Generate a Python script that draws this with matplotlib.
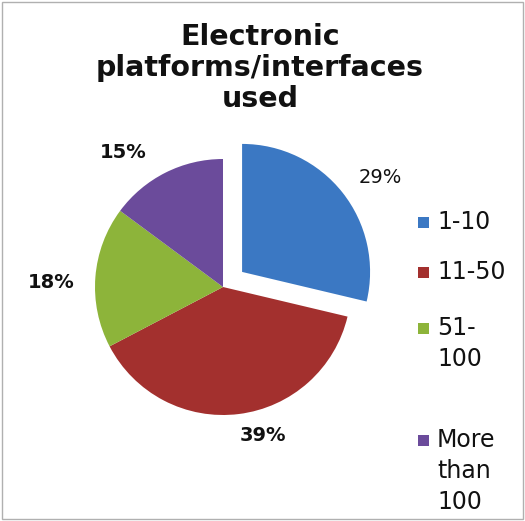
import numpy as np
import matplotlib.pyplot as plt
from matplotlib.patches import Rectangle

# Dados do gráfico
categorias = ['1-10', '11-50', '51-\n100', 'More\nthan\n100']
valores = [29, 39, 18, 15]
rotulos = ['29%', '39%', '18%', '15%']
cores = ['#3b78c3', '#a3302e', '#8db43a', '#6b4b9b']
explode = [0.19, 0, 0, 0]
titulo = 'Electronic\nplatforms/interfaces\nused'

fig = plt.figure(figsize=(5.25, 5.21), dpi=100)
fig.patch.set_facecolor('white')

# Eixo do gráfico de pizza (centro ~ (223, 287) px, raio ~128 px)
ax = fig.add_axes([63 / 525, 74 / 521, 320 / 525, 320 / 521])
wedges, textos = ax.pie(
    valores, colors=cores, explode=explode, startangle=90,
    counterclock=False, wedgeprops=dict(linewidth=0)
)
ax.set_xlim(-1.25, 1.25)
ax.set_ylim(-1.25, 1.25)
ax.set_aspect('equal')

# Rótulos de porcentagem (valores originais, somam 101%)
desvio = [-4, 8, 3, 10]
distancia = [1.31, 1.2, 1.34, 1.31]
pesos = ['normal', 'bold', 'bold', 'bold']
for w, rot, d, r, p in zip(wedges, rotulos, desvio, distancia, pesos):
    ang = np.deg2rad((w.theta1 + w.theta2) / 2 + d)
    cx, cy = w.center
    ax.text(cx + r * np.cos(ang), cy + r * np.sin(ang), rot, ha='center', va='center',
            fontsize=14, fontweight=p, color='#111111')

# Título
fig.text(260 / 525, 1 - 68 / 521, titulo, ha='center', va='center',
         fontsize=20.5, fontweight='bold', linespacing=1.12, color='#111111')

# Legenda manual
legenda_y = [222, 272, 328, 440]
for cat, cor, y in zip(categorias, cores, legenda_y):
    fig.patches.append(Rectangle((418 / 525, 1 - (y + 6) / 521), 11 / 525, 11 / 521,
                                 transform=fig.transFigure, facecolor=cor,
                                 edgecolor='none'))
    fig.text(437 / 525, 1 - (y - 12) / 521, cat, ha='left', va='top',
             fontsize=17, linespacing=1.38, color='#111111')

# Moldura
fig.patches.append(Rectangle((0.004, 0.004), 0.992, 0.992, transform=fig.transFigure,
                             facecolor='none', edgecolor='#b0b0b0', linewidth=1))

fig.savefig('out.png', dpi=100)
